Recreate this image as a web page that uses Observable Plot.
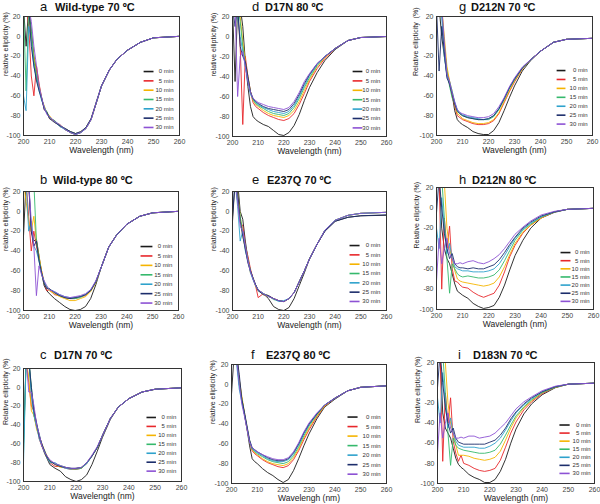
<!DOCTYPE html>
<html><head><meta charset="utf-8">
<script src="https://cdn.jsdelivr.net/npm/d3@7"></script>
<script src="https://cdn.jsdelivr.net/npm/@observablehq/plot@0.6"></script>
<style>
body{margin:0;background:#fff;}
#chart{position:relative;width:600px;height:504px;overflow:hidden;font-family:"Liberation Sans",Arial,sans-serif;background:#fff;}
.panel{position:absolute;}
.tl{position:absolute;font-size:13px;line-height:13px;color:#111;white-space:nowrap;}
.tn{position:absolute;font-size:11px;font-weight:bold;line-height:12px;color:#111;white-space:nowrap;}
</style></head><body><div id="chart"></div>
<script>
const wavelengths = [200,201,202,203,204,205,206,207,208,209,210,212,214,216,218,220,222,224,226,228,230,233,236,240,245,250,260];
const timeLabels = ["0 min","5 min","10 min","15 min","20 min","25 min","30 min"];
const xTicks = [200,210,220,230,240,250,260];
const yTicks = [-100,-80,-60,-40,-20,0,20];
const panelLetters = ["a","b","c","d","e","f","g","h","i"];
const panelNames = ["Wild-type 70 ºC","Wild-type 80 ºC","D17N 70 ºC","D17N 80 ºC","E237Q 70 ºC","E237Q 80 ºC","D212N 70 ºC","D212N 80 ºC","D183N 70 ºC"];
const yLabels = ["relative ellipticity (%)","relative ellipticity (%)","Relative ellipticity (%)","relative ellipticity (%)","relative ellipticity (%)","relative ellipticity (%)","Relative ellipticity  (%)","Relative ellipticity (%)","Relative ellipticity (%)"];
const xLabels = ["Wavelength (nm)","Wavelength (nm)","Wavelength (nm)","Wavelength (nm)","Wavelength (nm)","Wavelengh (nm)","Wavelength (nm)","Wavelength (nm)","Wavelength (nm)"];

const wt70 = [
[30,-10,30,5,-20,-35,-52,-63,-72,-77,-81,-86,-90,-94,-97,-99,-97,-93,-84,-67,-50,-34,-23,-14,-6,-1.5,0],
[30,30,10,-40,-60,-30,-48,-62,-74,-76,-83,-85,-91,-93,-96,-98,-97,-92,-83,-66,-50,-34,-23,-14,-6,-1.5,0],
[30,30,20,0,-20,-38,-50,-64,-70,-78,-80,-87,-89,-94,-97,-99,-96,-93,-84,-67,-50,-34,-23,-14,-6,-1.5,0],
[30,-55,25,5,-25,-40,-52,-62,-73,-76,-82,-85,-90,-93,-96,-98,-97,-92,-83,-67,-50,-34,-23,-14,-6,-1.5,0],
[-60,-75,10,-5,-30,-42,-55,-65,-71,-78,-81,-86,-91,-94,-97,-99,-97,-93,-84,-66,-50,-34,-23,-14,-6,-1.5,0],
[30,30,30,-10,-30,-45,-55,-63,-74,-77,-83,-87,-90,-93,-96,-98,-96,-92,-83,-67,-50,-34,-23,-14,-6,-1.5,0],
[30,30,30,15,-10,-30,-50,-62,-72,-79,-81,-86,-89,-94,-97,-99,-97,-93,-84,-67,-50,-34,-23,-14,-6,-1.5,0]
];
const wt80 = [
[-25,30,30,-20,-30,-28,-45,-62,-75,-80,-83,-88,-92,-96,-99,-100,-99,-96,-88,-74,-57,-36,-24,-13,-5,-1.5,0],
[30,30,-5,-40,-20,-35,-48,-60,-72,-80,-79,-84,-85,-87,-88,-88,-86,-85,-80,-71,-57,-36,-24,-13,-5,-1.5,0],
[30,10,-10,-20,-5,-30,-45,-60,-73,-76,-80,-83,-86,-88,-90,-90,-88,-86,-81,-72,-57,-36,-24,-13,-5,-1.5,0],
[30,30,30,30,30,-30,-48,-62,-71,-77,-78,-82,-85,-87,-88,-88,-87,-84,-80,-71,-57,-36,-24,-13,-5,-1.5,0],
[30,30,-20,-10,-35,-40,-50,-63,-72,-76,-79,-81,-84,-86,-87,-87,-86,-84,-79,-71,-57,-36,-24,-13,-5,-1.5,0],
[30,30,30,-20,-35,-30,-50,-62,-73,-78,-78,-82,-85,-87,-88,-87,-86,-84,-80,-71,-57,-36,-24,-13,-5,-1.5,0],
[30,30,30,-10,-35,-85,-55,-64,-70,-75,-79,-81,-84,-86,-87,-86,-85,-83,-79,-70,-57,-36,-24,-13,-5,-1.5,0]
];
const d17n70 = [
[-60,30,30,-5,-30,-42,-52,-62,-70,-76,-82,-86,-89,-95,-98,-100,-98,-93,-82,-68,-53,-34,-21,-12,-5,-2,-0.5],
[30,30,5,-20,-25,-40,-55,-63,-68,-75,-80,-84,-84,-86,-87,-87,-86,-81,-73,-64,-51,-33,-21,-12,-5,-2,-0.5],
[30,30,10,-25,-30,-45,-52,-60,-67,-73,-78,-82,-85,-85,-87,-86,-85,-80,-73,-64,-51,-33,-21,-12,-5,-2,-0.5],
[-70,30,30,0,-28,-40,-50,-62,-69,-74,-79,-81,-83,-85,-86,-87,-86,-81,-73,-64,-51,-33,-21,-12,-5,-2,-0.5],
[-80,30,30,-10,-30,-42,-55,-62,-67,-75,-80,-80,-84,-86,-87,-86,-85,-81,-73,-64,-51,-33,-21,-12,-5,-2,-0.5],
[30,30,30,0,-25,-38,-52,-60,-68,-74,-78,-82,-84,-85,-86,-86,-85,-80,-73,-64,-51,-33,-21,-12,-5,-2,-0.5],
[30,30,-5,-5,-20,-40,-50,-62,-69,-73,-77,-81,-83,-85,-86,-86,-85,-80,-72,-63,-51,-33,-21,-12,-5,-2,-0.5]
];
const d17n80 = [
[30,-45,30,30,10,-25,-50,-70,-80,-83,-85,-88,-90,-94,-98,-99,-96,-89,-78,-64,-51,-36,-24,-13,-4,-1,0],
[30,30,30,-10,-88,-20,-40,-55,-66,-70,-72,-76,-79,-81,-83,-84,-82,-77,-68,-57,-45,-32,-22,-12,-4,-1,0],
[30,30,30,20,-5,-25,-40,-55,-64,-68,-70,-74,-77,-79,-80,-81,-79,-74,-65,-54,-43,-30,-21,-12,-4,-1,0],
[30,30,30,15,-10,-28,-42,-56,-63,-67,-69,-72,-75,-77,-78,-79,-77,-71,-62,-51,-41,-29,-20,-12,-4,-1,0],
[30,30,20,0,-15,-30,-45,-58,-62,-66,-68,-71,-73,-75,-76,-77,-75,-69,-60,-49,-39,-28,-20,-12,-4,-1,0],
[30,10,30,-10,-20,-25,-40,-55,-62,-65,-67,-70,-72,-73,-74,-75,-73,-67,-58,-47,-38,-27,-20,-12,-4,-1,0],
[30,30,-60,-20,-15,-30,-45,-56,-62,-64,-66,-68,-70,-71,-72,-73,-71,-65,-56,-45,-37,-27,-20,-12,-4,-1,0]
];
const e237q70 = [
[-10,30,30,0,-8,-30,-48,-60,-68,-74,-79,-83,-88,-96,-99,-100,-97,-88,-75,-62,-48,-33,-20,-10,-6,-4.5,-4],
[30,30,10,-10,-15,-35,-45,-58,-68,-75,-87,-83,-85,-88,-90,-91,-88,-82,-71,-60,-48,-33,-19,-9,-4,-2,-1],
[30,30,20,-5,-25,-38,-50,-62,-67,-76,-80,-84,-86,-88,-90,-91,-88,-82,-71,-60,-48,-33,-19,-9,-4,-2,-1],
[30,30,15,-5,-22,-35,-48,-60,-68,-75,-79,-83,-85,-89,-90,-91,-88,-82,-71,-60,-48,-33,-19,-9,-4,-2,-1],
[30,30,5,-30,-20,-40,-50,-62,-69,-75,-80,-83,-86,-88,-91,-90,-88,-82,-71,-60,-48,-33,-19,-9,-4,-2,-1],
[-5,30,20,-10,-25,-38,-52,-60,-67,-74,-80,-84,-85,-88,-90,-91,-88,-82,-71,-60,-48,-33,-20,-10,-6,-4.5,-3.5],
[30,30,10,-15,-20,-35,-50,-61,-68,-75,-79,-83,-86,-88,-90,-91,-88,-82,-71,-60,-48,-33,-19,-9,-4,-2,-1]
];
const e237q80 = [
[-10,30,30,5,-15,-30,-45,-62,-75,-78,-80,-85,-89,-92,-96,-99,-96,-87,-75,-62,-50,-35,-23,-15,-6.5,-3,-1.5],
[30,30,25,0,-15,-30,-45,-58,-67,-70,-72,-76,-79,-81,-83,-84,-82,-76,-67,-56,-46,-33,-22,-14,-6.5,-3,-1.5],
[30,30,30,5,-12,-28,-43,-57,-66,-69,-71,-75,-78,-80,-81,-82,-80,-74,-65,-54,-44,-32,-22,-14,-6.5,-3,-1.5],
[30,30,30,0,-15,-30,-44,-57,-65,-68,-70,-73,-76,-78,-79,-80,-78,-72,-63,-52,-42,-31,-21,-14,-6.5,-3,-1.5],
[30,30,20,-5,-18,-30,-44,-58,-65,-67,-69,-72,-75,-77,-78,-78,-76,-70,-61,-50,-41,-30,-21,-14,-6.5,-3,-1.5],
[30,30,30,10,-15,-28,-42,-56,-64,-66,-68,-71,-74,-76,-77,-77,-75,-69,-60,-49,-40,-30,-21,-14,-6.5,-3,-1.5],
[30,30,25,0,-20,-32,-45,-58,-64,-66,-68,-71,-73,-75,-76,-76,-74,-68,-59,-48,-39,-29,-21,-14,-6.5,-3,-1.5]
];
const d212n70 = [
[30,30,0,-20,-38,-48,-58,-75,-84,-87,-89,-92,-96,-98,-99,-99,-95,-87,-75,-62,-50,-35,-25,-15,-6,-3,-2],
[30,30,30,-10,-35,-45,-60,-70,-80,-82,-84,-86,-88,-89,-89,-88,-85,-78,-67,-56,-46,-33,-24,-15,-6,-3,-2],
[30,30,30,0,-30,-45,-55,-68,-78,-80,-83,-85,-87,-88,-88,-87,-84,-77,-66,-55,-45,-33,-24,-15,-6,-3,-2],
[30,30,25,-10,-35,-50,-62,-68,-76,-78,-80,-82,-83,-84,-84,-84,-81,-74,-64,-53,-44,-32,-24,-15,-6,-3,-2],
[30,30,20,-20,-40,-45,-55,-66,-74,-77,-79,-81,-82,-83,-84,-83,-80,-73,-63,-52,-43,-32,-24,-15,-6,-3,-2],
[30,-35,10,-15,-42,-48,-58,-68,-75,-78,-80,-82,-83,-84,-84,-83,-80,-73,-63,-52,-43,-32,-24,-15,-6,-3,-2],
[30,30,30,-5,-38,-46,-57,-66,-74,-77,-78,-80,-81,-82,-82,-81,-78,-71,-62,-51,-42,-31,-24,-15,-6,-3,-2]
];
const d212n80 = [
[30,30,-20,-40,-50,-55,-65,-75,-82,-84,-86,-89,-94,-97,-99,-98,-96,-88,-76,-61,-47,-32,-20,-10,-4.5,-1.5,-0.5],
[30,30,-80,-10,-40,-18,-60,-72,-73,-76,-78,-79,-83,-86,-88,-86,-84,-76,-63,-48,-37,-25,-17,-10,-4,-1.5,-0.5],
[30,30,30,25,-20,-40,-50,-62,-70,-72,-73,-74,-75,-76,-77,-76,-74,-68,-58,-46,-35,-24,-17,-10,-4,-1.5,-0.5],
[30,30,30,-10,-50,-84,-55,-60,-65,-67,-68,-67,-68,-69,-69,-68,-66,-61,-52,-42,-32,-22,-16,-9,-4,-1.5,-0.5],
[-20,-40,10,-20,-45,-35,-50,-58,-60,-61,-62,-62,-63,-63,-63,-62,-60,-55,-47,-38,-30,-21,-15,-9,-4,-1.5,-0.5],
[-5,30,0,-25,-40,-50,-45,-55,-58,-59,-59,-60,-59,-60,-60,-58,-56,-51,-44,-36,-29,-20,-14,-8,-4,-1.5,-0.5],
[-72,-30,-55,-40,-30,-45,-50,-55,-55,-54,-55,-53,-52,-54,-55,-53,-50,-46,-40,-33,-26,-19,-13,-7,-3.5,-1.5,-0.5]
];
const d183n70 = [
[30,30,-30,-45,-50,-55,-65,-75,-81,-84,-86,-91,-94,-96,-99,-99,-96,-88,-76,-60,-46,-31,-21,-12,-5,-1.5,-0.5],
[30,30,-78,-10,-40,-15,-58,-70,-78,-72,-80,-82,-85,-87,-88,-87,-85,-77,-64,-50,-39,-27,-19,-11,-4.5,-1.5,-0.5],
[30,30,30,20,-20,-40,-50,-62,-72,-72,-72,-73,-75,-76,-77,-76,-74,-68,-57,-45,-35,-25,-18,-10,-4.5,-1.5,-0.5],
[30,30,30,-10,-50,-82,-55,-62,-65,-66,-67,-68,-69,-70,-70,-69,-67,-61,-52,-42,-33,-24,-17,-10,-4.5,-1.5,-0.5],
[-15,-40,10,-20,-45,-35,-50,-58,-62,-63,-64,-64,-64,-65,-65,-63,-60,-55,-47,-38,-30,-22,-16,-9,-4,-1.5,-0.5],
[-5,30,0,-25,-40,-50,-45,-55,-59,-60,-61,-61,-61,-61,-61,-59,-57,-52,-45,-36,-29,-21,-15,-9,-4,-1.5,-0.5],
[-70,-30,-55,-40,-30,-45,-50,-55,-55,-54,-55,-53,-53,-55,-54,-53,-50,-45,-40,-33,-26,-19,-14,-8,-3.5,-1.5,-0.5]
];

const seriesColors = ["#1b1b1b","#e8272b","#f5b400","#35b96c","#2ea2cc","#1c2d6b","#8d52d4"];
const FONT = '"Liberation Sans", Arial, sans-serif';

const panelSeries = [wt70, wt80, d17n70, d17n80, e237q70, e237q80, d212n70, d212n80, d183n70];
const layout = [
  {left:0,top:0,w:200,h:170,ml:23,mr:21,mt:16,mb:35,yl:18,lt:-35.5,ls:9.4,lx:[246.2,250,257.7],tx:40,nx:55,bl:11},
  {left:0,top:170,w:200,h:165,ml:23,mr:22,mt:21,mb:25,yl:18,lt:-35.5,ls:9.5,lx:[245.3,249.9,257.6],tx:40,nx:53,bl:183.5},
  {left:0,top:335,w:200,h:169,ml:23,mr:19,mt:33,mb:23,yl:18,lt:-32,ls:9.5,lx:[246.7,250.3,258],tx:40,nx:54,bl:359},
  {left:200,top:0,w:200,h:170,ml:32,mr:14,mt:16,mb:34,yl:19,lt:-35,ls:9.4,lx:[246.8,250.6,257.6],tx:252,nx:265,bl:11},
  {left:200,top:170,w:200,h:165,ml:32,mr:14,mt:21,mb:25,yl:19,lt:-34.5,ls:9.4,lx:[245.6,249.5,257.6],tx:252,nx:267,bl:183.5},
  {left:200,top:335,w:200,h:169,ml:31,mr:14,mt:29,mb:21,yl:19,lt:-33,ls:9.6,lx:[244.9,248.8,257.7],tx:251,nx:266,bl:359},
  {left:400,top:0,w:200,h:170,ml:36,mr:8,mt:16,mb:35,yl:21,lt:-34.5,ls:9.0,lx:[246.2,249.6,258.1],tx:459,nx:471,bl:11},
  {left:400,top:170,w:200,h:165,ml:36,mr:7,mt:17,mb:26,yl:20,lt:-44,ls:8,lx:[247.4,251.2,258.5],tx:459,nx:472,bl:183.5},
  {left:400,top:335,w:200,h:169,ml:37,mr:6,mt:27,mb:21,yl:20,lt:-42,ls:8,lx:[246.6,250.5,258.5],tx:458,nx:473,bl:359}
];

const chart = document.getElementById("chart");
panelSeries.forEach((series, p) => {
  const L = layout[p];
  const rows = [];
  series.forEach((arr, k) => arr.forEach((v, j) => rows.push({w: wavelengths[j], v, t: timeLabels[k]})));
  const legY = (d, i) => L.lt - i * L.ls;
  const svg = Plot.plot({
    width: L.w, height: L.h,
    marginLeft: L.ml, marginRight: L.mr, marginTop: L.mt, marginBottom: L.mb,
    style: {fontFamily: FONT, fontSize: "7px", color: "#333", background: "transparent", overflow: "visible"},
    x: {domain: [200, 260]},
    y: {domain: [-100, 20]},
    color: {domain: timeLabels, range: seriesColors},
    marks: [
      Plot.line(rows, {x: "w", y: "v", z: "t", stroke: "t", strokeWidth: 0.9, clip: true}),
      Plot.frame({stroke: "#333", strokeWidth: 1}),
      Plot.axisX({ticks: xTicks, tickSize: 0, tickPadding: 4, label: null, tickFormat: d => `${d}`, fontSize: 7, fill: "#444"}),
      Plot.axisY({ticks: yTicks, tickSize: 0, tickPadding: 3, label: null, tickFormat: d => `${d}`, fontSize: 7, fill: "#444"}),
      Plot.text([xLabels[p]], {frameAnchor: "bottom", dy: 17, fontSize: 8.5, text: d => d, fill: "#222"}),
      Plot.text([yLabels[p]], {frameAnchor: "left", rotate: -90, dx: -L.yl, fontSize: 7, text: d => d, fill: "#222"}),
      Plot.link(timeLabels, {x1: () => L.lx[0], x2: () => L.lx[1], y1: legY, y2: legY, stroke: d => d, strokeWidth: 1.6}),
      Plot.text(timeLabels, {x: () => L.lx[2], y: legY, text: d => d, textAnchor: "end", fontSize: 6, fill: "#333"})
    ]
  });
  const div = document.createElement("div");
  div.className = "panel";
  div.style.left = L.left + "px";
  div.style.top = L.top + "px";
  div.appendChild(svg);
  chart.appendChild(div);

  const letter = document.createElement("div");
  letter.className = "tl";
  letter.style.left = L.tx + "px";
  letter.style.top = (L.bl - 11) + "px";
  letter.textContent = panelLetters[p];
  chart.appendChild(letter);
  const name = document.createElement("div");
  name.className = "tn";
  name.style.left = L.nx + "px";
  name.style.top = (L.bl - 9.8) + "px";
  name.textContent = panelNames[p];
  chart.appendChild(name);
});
</script></body></html>
